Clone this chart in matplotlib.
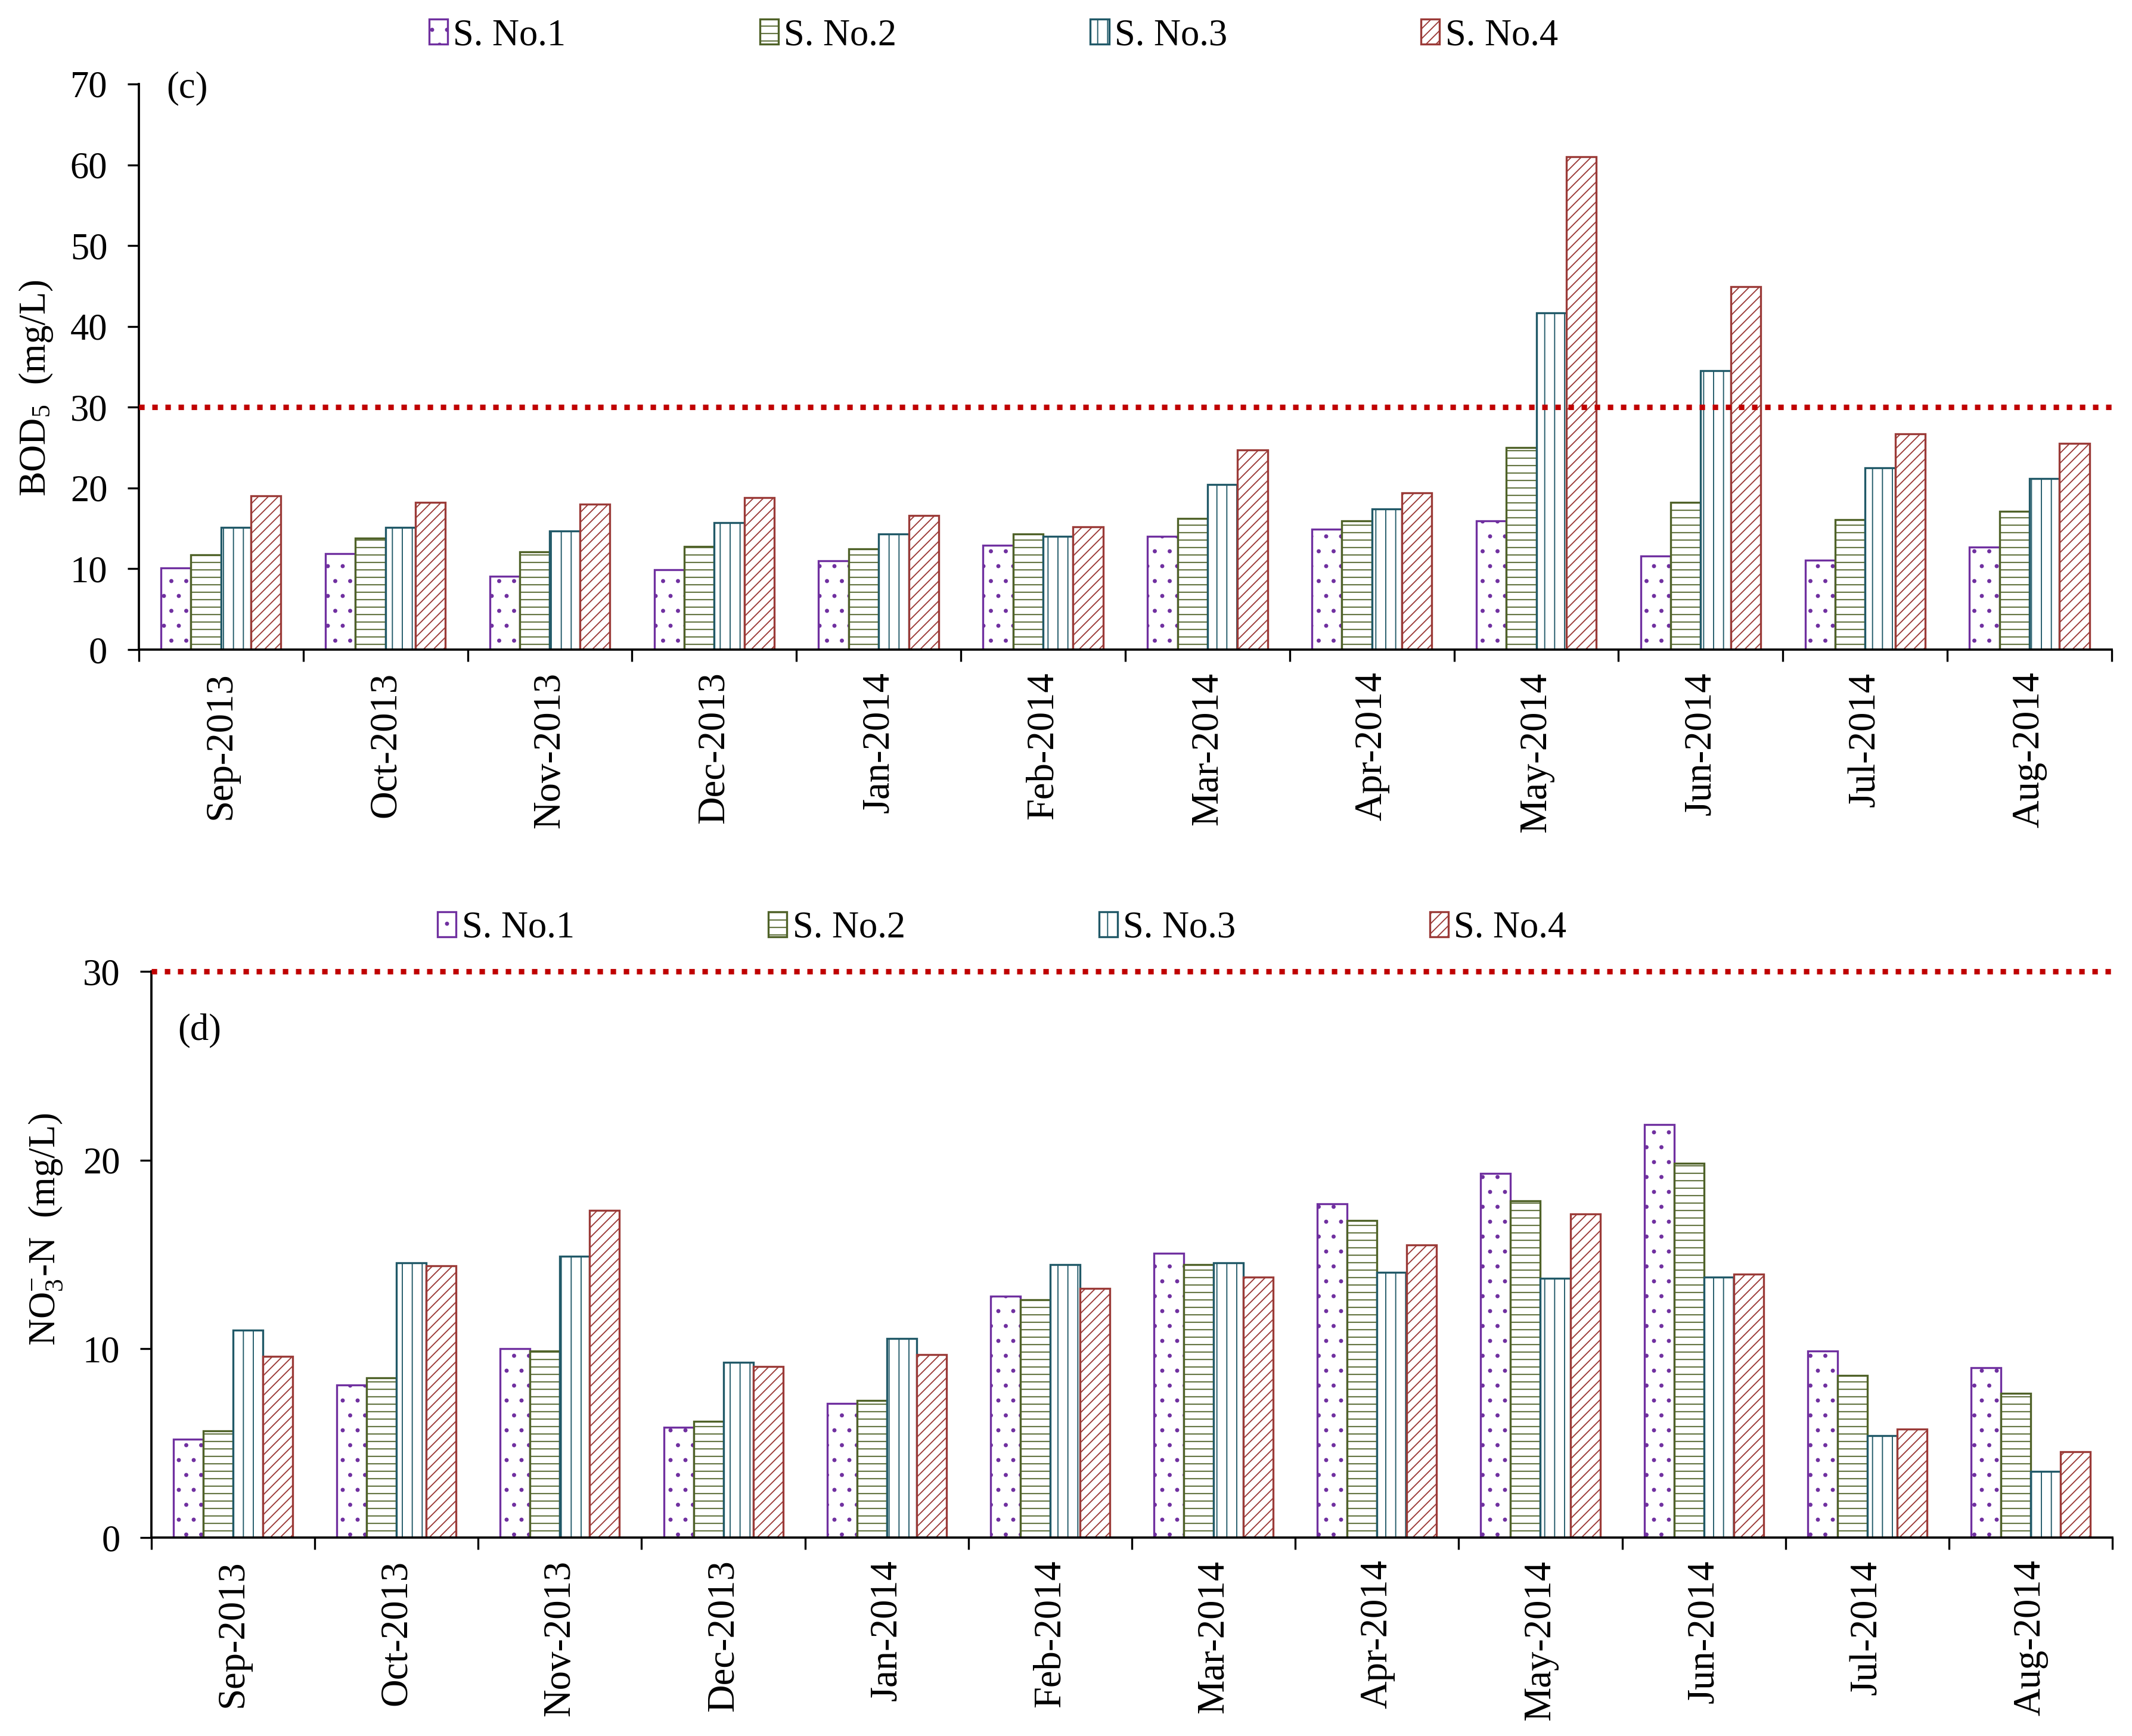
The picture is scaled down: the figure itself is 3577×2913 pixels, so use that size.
import matplotlib
matplotlib.use('Agg')
import numpy as np
import matplotlib.pyplot as plt

plt.rcParams['font.family'] = ['Liberation Serif', 'DejaVu Serif']
plt.rcParams['mathtext.fontset'] = 'custom'
plt.rcParams['mathtext.rm'] = 'Liberation Serif'
plt.rcParams['mathtext.it'] = 'Liberation Serif:italic'
plt.rcParams['hatch.linewidth'] = 0.45
plt.rcParams['font.size'] = 15

# Months shared by both panels
months = ['Sep-2013', 'Oct-2013', 'Nov-2013', 'Dec-2013', 'Jan-2014', 'Feb-2014',
          'Mar-2014', 'Apr-2014', 'May-2014', 'Jun-2014', 'Jul-2014', 'Aug-2014']
series_names = ['S. No.1', 'S. No.2', 'S. No.3', 'S. No.4']

# (c) BOD5, mg/L
bod_s1 = [10.1, 11.9, 9.1, 9.9, 11.0, 12.9, 14.0, 14.9, 15.9, 11.6, 11.1, 12.7]
bod_s2 = [11.7, 13.8, 12.1, 12.8, 12.5, 14.3, 16.2, 15.9, 25.0, 18.2, 16.1, 17.1]
bod_s3 = [15.1, 15.1, 14.7, 15.7, 14.3, 14.0, 20.4, 17.4, 41.7, 34.5, 22.5, 21.2]
bod_s4 = [19.0, 18.2, 18.0, 18.8, 16.6, 15.2, 24.7, 19.4, 61.0, 44.9, 26.7, 25.5]
bod_limit = 30

# (d) NO3-N, mg/L
no3_s1 = [5.2, 8.1, 10.0, 5.85, 7.1, 12.8, 15.05, 17.7, 19.3, 21.9, 9.9, 9.0]
no3_s2 = [5.65, 8.45, 9.9, 6.15, 7.25, 12.6, 14.45, 16.8, 17.85, 19.85, 8.6, 7.65]
no3_s3 = [11.0, 14.55, 14.9, 9.3, 10.55, 14.45, 14.55, 14.05, 13.75, 13.8, 5.4, 3.5]
no3_s4 = [9.6, 14.4, 17.35, 9.05, 9.7, 13.2, 13.8, 15.5, 17.15, 13.95, 5.75, 4.55]
no3_limit = 30

colors = ['#7030A0', '#4F6228', '#215968', '#9B3B38']
hatches = ['..', '----', '|||', '//////']
bar_w = 0.1825


def draw_panel(ax, data, ylim, yticks, limit, ylabel, tag, tag_xy, label_xy):
    x = np.arange(len(months))
    bars = []
    for j, vals in enumerate(data):
        b = ax.bar(x + (j - 1.5) * bar_w, vals, width=bar_w, facecolor='white',
                   edgecolor=colors[j], hatch=hatches[j], linewidth=0.8,
                   label=series_names[j], zorder=2)
        bars.append(b)
    ax.axhline(limit, color='#C00000', linewidth=2.2, linestyle=(0, (1, 1.4)),
               clip_on=False, zorder=3)
    ax.set_xlim(-0.5, len(months) - 0.5)
    ax.set_ylim(*ylim)
    ax.set_yticks(yticks)
    # category boundaries get the tick marks, labels sit in the middle
    ax.set_xticks(np.arange(-0.5, len(months), 1.0))
    ax.set_xticklabels([])
    ax.set_xticks(x, minor=True)
    ax.set_xticklabels(months, minor=True, rotation=90)
    ax.tick_params(axis='x', which='major', direction='out', length=4.8, width=0.8)
    ax.tick_params(axis='x', which='minor', length=0, pad=9, labelsize=15.5)
    ax.tick_params(axis='y', direction='out', length=4.6, width=0.8, pad=8, labelsize=15)
    for s in ['top', 'right']:
        ax.spines[s].set_visible(False)
    for s in ['left', 'bottom']:
        ax.spines[s].set_linewidth(0.9)
    ax.set_ylabel(ylabel, fontsize=15, va='center')
    ax.yaxis.set_label_coords(*label_xy)
    ax.text(tag_xy[0], tag_xy[1], tag, transform=ax.transAxes, fontsize=15,
            ha='left', va='center')
    return bars


fig = plt.figure(figsize=(3577 / 300, 2913 / 300), dpi=300)
ax1 = fig.add_axes([0.0651, 0.6258, 0.9254, 0.3258])
ax2 = fig.add_axes([0.0710, 0.1143, 0.9198, 0.3261])

bars1 = draw_panel(ax1, [bod_s1, bod_s2, bod_s3, bod_s4], (0, 70), range(0, 71, 10),
                   bod_limit, 'BOD$_\\mathregular{5}$  (mg/L)', '(c)',
                   (0.0139, 0.992), (-0.052, 0.4626))
bars2 = draw_panel(ax2, [no3_s1, no3_s2, no3_s3, no3_s4], (0, 30), range(0, 31, 10),
                   no3_limit, 'NO$_\\mathregular{3}^\\mathregular{-}$-N  (mg/L)', '(d)',
                   (0.0134, 0.894), (-0.0538, 0.545))

leg_kw = dict(ncol=4, loc='center', frameon=False, fontsize=15, handlelength=0.5,
              handleheight=0.64, handletextpad=0.15, columnspacing=5.2,
              borderaxespad=0)
fig.legend(handles=bars1, labels=series_names, bbox_to_anchor=(0.466, 0.9794), **leg_kw)
fig.legend(handles=bars2, labels=series_names, bbox_to_anchor=(0.470, 0.4652), **leg_kw)

fig.savefig('out.png', dpi=300)
